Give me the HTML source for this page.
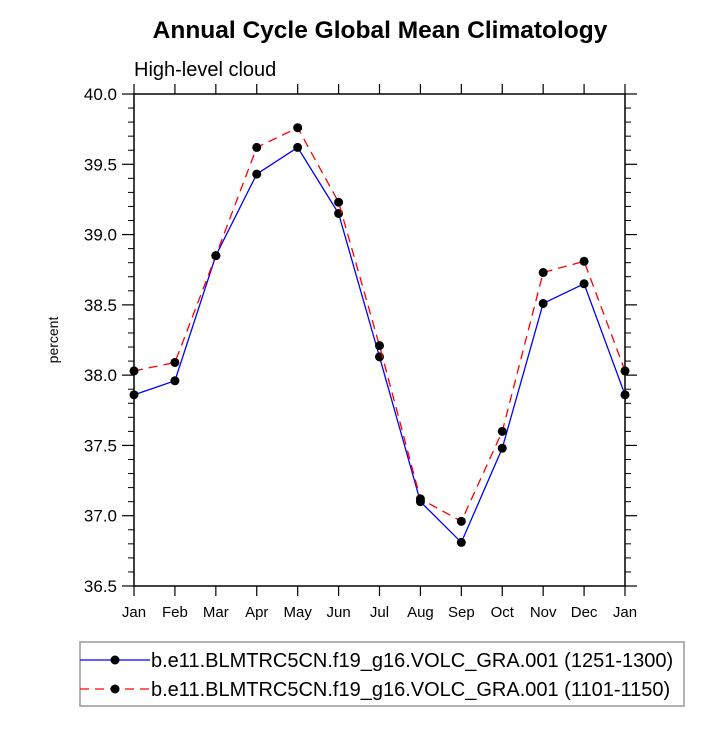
<!DOCTYPE html>
<html><head><meta charset="utf-8"><style>
body{margin:0;background:#fff;}
svg text{font-family:"Liberation Sans",Arial,sans-serif;}
</style></head><body>
<svg id="chart" width="727" height="728" xmlns="http://www.w3.org/2000/svg">
<text x="380" y="38" font-size="24.5" font-weight="bold" text-anchor="middle">Annual Cycle Global Mean Climatology</text>
<text x="134" y="76" font-size="20">High-level cloud</text>
<text transform="translate(58,340) rotate(-90)" font-size="14" text-anchor="middle">percent</text>
<g id="axes"></g>
<g id="series"></g>
<rect x="80" y="642" width="604" height="64" fill="none" stroke="#999" stroke-width="1.5"/>
<g>
<line x1="80" y1="660" x2="150" y2="660" stroke="#0000ff" stroke-width="1.3"/>
<circle cx="115" cy="660" r="4.5" fill="#000"/>
<text x="151" y="667" font-size="20">b.e11.BLMTRC5CN.f19_g16.VOLC_GRA.001 (1251-1300)</text>
</g>
<g>
<line x1="80" y1="689" x2="150" y2="689" stroke="#ff0000" stroke-width="1.3" stroke-dasharray="9,6"/>
<circle cx="115" cy="689" r="4.5" fill="#000"/>
<text x="151" y="696" font-size="20">b.e11.BLMTRC5CN.f19_g16.VOLC_GRA.001 (1101-1150)</text>
</g>
</svg>
<script>
const months=["Jan","Feb","Mar","Apr","May","Jun","Jul","Aug","Sep","Oct","Nov","Dec","Jan"];
const yTicks=[36.5,37.0,37.5,38.0,38.5,39.0,39.5,40.0];
const blueVals=[37.86,37.96,38.85,39.43,39.62,39.15,38.13,37.10,36.81,37.48,38.51,38.65,37.86];
const redVals=[38.03,38.09,38.85,39.62,39.76,39.23,38.21,37.12,36.96,37.60,38.73,38.81,38.03];
const L=134,R=625,T=94,B=586,ymin=36.5,ymax=40.0;
const xs=i=>L+(R-L)*i/(months.length-1);
const ys=v=>B-(v-ymin)/(ymax-ymin)*(B-T);
const NS="http://www.w3.org/2000/svg";
function mk(tag,attrs,parent){const e=document.createElementNS(NS,tag);for(const k in attrs)e.setAttribute(k,attrs[k]);parent.appendChild(e);return e;}
const ax=document.getElementById('axes');
const frame=mk('rect',{x:L,y:T,width:R-L,height:B-T,fill:'none',stroke:'#000','stroke-width':1.5},ax);


months.forEach((m,i)=>{
  const x=xs(i);
  mk('line',{x1:x,y1:B,x2:x,y2:B+10,stroke:'#000','stroke-width':1.2},ax);
  mk('line',{x1:x,y1:T,x2:x,y2:T-10,stroke:'#000','stroke-width':1.2},ax);
  const t=mk('text',{x:x,y:B+31,'font-size':15,'text-anchor':'middle'},ax);
  t.textContent=m;
  
  
});
yTicks.forEach((v,i)=>{
  const y=ys(v);
  mk('line',{x1:L-12,y1:y,x2:L,y2:y,stroke:'#000','stroke-width':1.2},ax);
  mk('line',{x1:R,y1:y,x2:R+12,y2:y,stroke:'#000','stroke-width':1.2},ax);
  const t=mk('text',{x:L-17,y:y+6,'font-size':17,'text-anchor':'end'},ax);
  t.textContent=v.toFixed(1);
  
  
  if(i<yTicks.length-1){
    for(let k=1;k<5;k++){
      const yy=ys(v+0.1*k);
      mk('line',{x1:L-6,y1:yy,x2:L,y2:yy,stroke:'#000','stroke-width':1},ax);
      mk('line',{x1:R,y1:yy,x2:R+6,y2:yy,stroke:'#000','stroke-width':1},ax);
    }
  }
});
const sg=document.getElementById('series');
function series(vals,color,dash,name){
  const g=mk('g',{},sg);
  
  
  const p=mk('polyline',{points:vals.map((v,i)=>xs(i)+','+ys(v)).join(' '),fill:'none',stroke:color,'stroke-width':1.3,'stroke-dasharray':dash},g);
  
  
  vals.forEach((v,i)=>{
    const c=mk('circle',{cx:xs(i),cy:ys(v),r:4.5,fill:'#000'},g);
    
    
  });
}
series(blueVals,'#0000ff','none','series-1251-1300');
series(redVals,'#ff0000','9,6','series-1101-1150');
</script>
</body></html>
